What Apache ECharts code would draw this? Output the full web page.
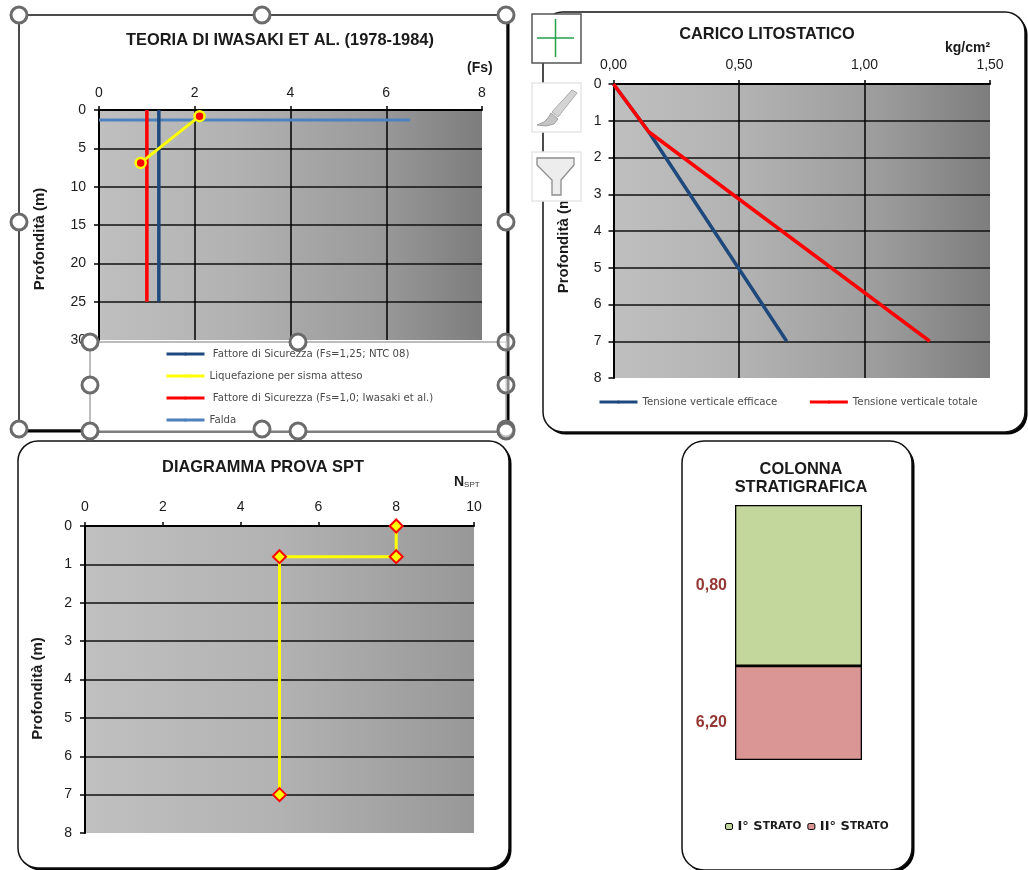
<!DOCTYPE html>
<html><head><meta charset="utf-8">
<style>html,body{margin:0;padding:0;background:#fff}#c{width:1028px;height:870px}</style>
<script src="https://cdn.jsdelivr.net/npm/echarts@6/dist/echarts.min.js"></script>
</head><body><div id="c"></div>
<script>
// --- Chart 1: Iwasaki
const fsTicks = [0, 8, 2];
const depthIwasaki = [0, 25];
const fs125 = [1.25, 1.25];
const fs100 = [1.0, 1.0];
const liquefaction = [[2.1, 0.8], [0.87, 6.9]];
const falda = [[0, 1.3], [6.5, 1.3]];
const iwasakiLegend = [' Fattore di Sicurezza (Fs=1,25; NTC 08)', 'Liquefazione per sisma atteso', ' Fattore di Sicurezza (Fs=1,0; Iwasaki et al.)', 'Falda'];
// --- Chart 2: Carico litostatico
const effective = [[0, 0], [0.14, 1.3], [0.69, 7]];
const total = [[0, 0], [0.14, 1.3], [1.26, 7]];
// --- Chart 3: SPT
const spt = [[8, 0], [8, 0.8], [5, 0.8], [5, 7]];
// --- Chart 4: Stratigraphy (drawn heights as pictured, labels as printed)
const strataNames = ['I° Strato', 'II° Strato'];
const strataDrawn = [63.1, 36.9];
const strataLabels = ['0,80', '6,20'];

const FONT = '"Liberation Sans", Arial, sans-serif';
const LEGFONT = '"DejaVu Sans", sans-serif';
const INK = '#1a1a1a';
const grad = (stops) => ({type:'linear',x:0,y:0,x2:1,y2:0,colorStops:stops.map(s=>({offset:s[0],color:s[1]}))});
const darkGrad = grad([[0,'#bfbfbf'],[0.35,'#b2b2b2'],[0.72,'#9b9b9b'],[1,'#7d7d7d']]);
const lightGrad = grad([[0,'#c0c0c0'],[0.5,'#b2b2b2'],[1,'#989898']]);

function unitName(text,size,padBottom){
  return {name:`{a|${text}}`,nameTextStyle:{padding:[0,0,padBottom,0],rich:{a:{fontFamily:FONT,fontSize:size,fontWeight:'bold',color:INK}}}};
}
function xAxis(i,min,max,interval,margin,opts={}){
  return Object.assign({
    gridIndex:i,type:'value',position:'top',min,max,interval,
    axisLine:{show:true,onZero:false,lineStyle:{color:'#000',width:2}},
    axisTick:{show:true,length:4,lineStyle:{color:'#000',width:1.5}},
    axisLabel:{fontFamily:FONT,fontSize:14,color:INK,margin,formatter:opts.fmt},
    splitLine:{show:true,showMinLine:false,showMaxLine:false,lineStyle:{color:'#000',width:1.5}},
    nameLocation:'end'
  },opts);
}
function yAxis(i,max,interval,pad,gap,margin){
  return {
    gridIndex:i,type:'value',inverse:true,min:0,max,interval,
    name:'Profondità (m)',nameLocation:'middle',nameRotate:90,nameGap:gap,
    nameTextStyle:{fontFamily:FONT,fontSize:15,fontWeight:'bold',color:INK,padding:[0,pad,0,0]},
    axisLine:{show:true,onZero:false,lineStyle:{color:'#000',width:2}},
    axisTick:{show:true,length:5,lineStyle:{color:'#000',width:1.5}},
    axisLabel:{fontFamily:FONT,fontSize:14,color:INK,margin},
    splitLine:{show:true,showMinLine:false,showMaxLine:false,lineStyle:{color:'#111',width:1.5}}
  };
}
function line(name,data,color,ax,extra={}){
  return Object.assign({name,type:'line',xAxisIndex:ax,yAxisIndex:ax,data,showSymbol:false,symbol:'none',
    lineStyle:{color,width:3.5},itemStyle:{color},silent:true,animation:false},extra);
}
const titleText=(text,left,top)=>({text,left,top,padding:0,textAlign:'center',textStyle:{fontFamily:FONT,fontSize:16.4,fontWeight:'bold',color:INK,lineHeight:18}});
function panel(x,y,w,h,r,shadow){
  return [
    {type:'rect',z:-10,shape:{x:x+shadow,y:y+shadow,width:w,height:h,r},style:{fill:'#000'},silent:true},
    {type:'rect',z:-9,shape:{x,y,width:w,height:h,r},style:{fill:'#fff',stroke:'#111',lineWidth:1.5},silent:true}
  ];
}
const handle=(cx,cy,fill='#fff')=>({type:'circle',z:20,shape:{cx,cy,r:8},style:{fill,stroke:'#6b6b6b',lineWidth:3},silent:true});
const btn=(y,stroke)=>({type:'rect',z:20,shape:{x:532,y,width:49,height:49},style:{fill:'#fff',stroke,lineWidth:1.5},silent:true});

const graphicEls=[
  ...panel(543,12,482,420,20,2.5),
  ...panel(18,441,491,427,20,2.5),
  ...panel(682,441,230,429,22,2.5),
  ...panel(19,15,488,415,6,2.5),
  {type:'rect',z:8,shape:{x:90,y:342,width:416,height:89},style:{fill:'#fff',stroke:'#a6a6a6',lineWidth:1.5},silent:true},
  handle(19,15),handle(262,15),handle(506,15),handle(19,222),handle(506,222),handle(19,429),handle(262,429),handle(506,429),
  handle(90,342),handle(298,342),handle(506,342,'rgba(255,255,255,.55)'),handle(90,385),handle(506,385,'rgba(255,255,255,.55)'),handle(90,431),handle(298,431),handle(506,431,'rgba(255,255,255,.55)'),
  btn(14,'#555'),
  {type:'line',z:21,shape:{x1:537,y1:38,x2:574,y2:38},style:{stroke:'#22a04a',lineWidth:1.5},silent:true},
  {type:'line',z:21,shape:{x1:555.5,y1:19,x2:555.5,y2:57},style:{stroke:'#22a04a',lineWidth:1.5},silent:true},
  btn(83,'#e6e6e6'),
  {type:'polygon',z:21,shape:{points:[[572,90],[577,93],[558,117],[552,112]]},style:{fill:'#d4d4d4',stroke:'#aaaaaa',lineWidth:1},silent:true},
  {type:'polygon',z:21,shape:{points:[[551,113],[558,119],[554,124],[546,126],[537,125],[544,122],[548,118]]},style:{fill:'#c4c4c4',stroke:'#a0a0a0',lineWidth:1},silent:true},
  btn(152,'#e6e6e6'),
  {type:'polygon',z:21,shape:{points:[[537,158],[574,158],[574,165],[561,180],[561,195],[552,195],[552,180],[537,165]]},style:{fill:'#ededed',stroke:'#8c8c8c',lineWidth:1.3},silent:true}
];
const legText={fontFamily:LEGFONT,fontSize:10.2,color:'#4a4a4a'};
const legItem=(name,color)=>({name,itemStyle:{color,borderWidth:0}});

const option={
  animation:false,
  backgroundColor:'#fff',
  graphic:{elements:graphicEls},
  title:[
    titleText('TEORIA DI IWASAKI ET AL. (1978-1984)',280,31),
    titleText('CARICO LITOSTATICO',767,25),
    titleText('DIAGRAMMA PROVA SPT',263,458),
    titleText('COLONNA\nSTRATIGRAFICA',801,460)
  ],
  grid:[
    {left:99,top:110,width:383,height:230,show:true,borderWidth:0,backgroundColor:darkGrad},
    {left:613.5,top:84,width:376.5,height:294,show:true,borderWidth:0,backgroundColor:darkGrad},
    {left:85,top:526,width:389,height:307,show:true,borderWidth:0,backgroundColor:lightGrad},
    {left:735,top:505,width:127,height:255,show:false}
  ],
  xAxis:[
    xAxis(0,fsTicks[0],fsTicks[1],fsTicks[2],10,{...unitName('(Fs)',14,84),nameGap:-15}),
    xAxis(1,0,1.5,0.5,12,{fmt:v=>v.toFixed(2).replace('.',','),...unitName('kg/cm²',14,72),nameGap:-45}),
    xAxis(2,0,10,2,12,{splitLine:{show:false},name:'{a|N}{b|SPT}',nameGap:-20,nameTextStyle:{padding:[0,0,88,0],rich:{a:{fontFamily:FONT,fontSize:14,fontWeight:'bold',color:INK},b:{fontFamily:FONT,fontSize:8,fontWeight:'normal',color:'#333',verticalAlign:'bottom',padding:[5,0,0,0]}}}}),
    {gridIndex:3,type:'category',data:['Strati'],show:false}
  ],
  yAxis:[
    yAxis(0,30,5,28,52,13),
    yAxis(1,8,1,22,42.5,12),
    yAxis(2,8,1,18,40,13),
    {gridIndex:3,type:'value',inverse:true,min:0,max:100,show:false}
  ],
  legend:[
    {orient:'vertical',left:165,top:348,padding:0,itemWidth:38,itemHeight:4,itemGap:10,z:10,lineStyle:{width:3},
      data:[legItem(iwasakiLegend[0],'#1f497d'),legItem(iwasakiLegend[1],'#ffff00'),legItem(iwasakiLegend[2],'#ff0000'),legItem(iwasakiLegend[3],'#4f81bd')],
      textStyle:{...legText,lineHeight:12}},
    {left:598,top:397,padding:0,itemWidth:38,itemHeight:4,itemGap:31,lineStyle:{width:3},
      data:[legItem('Tensione verticale efficace','#1f497d'),legItem('Tensione verticale totale','#ff0000')],textStyle:legText},
    {left:725,top:820,padding:0,itemWidth:7,itemHeight:6,itemGap:6,
      data:strataNames.map((name,i)=>({name,itemStyle:{borderWidth:1}})),
      formatter:n=>n.replace(/^(I+°) S(.*)$/,(m,a,b)=>`{a|${a} S}{b|${b.toUpperCase()}}`),
      textStyle:{rich:{a:{fontFamily:LEGFONT,fontSize:13,fontWeight:'bold',color:INK},b:{fontFamily:LEGFONT,fontSize:10.5,fontWeight:'bold',color:INK}}}}
  ],
  series:[
    line(iwasakiLegend[3],falda,'#4f81bd',0,{z:3,lineStyle:{color:'#4f81bd',width:3}}),
    line(iwasakiLegend[0],fs125.map((x,i)=>[x,depthIwasaki[i]]),'#1f497d',0,{z:4}),
    line(iwasakiLegend[2],fs100.map((x,i)=>[x,depthIwasaki[i]]),'#ff0000',0,{z:4}),
    line(iwasakiLegend[1],liquefaction,'#ffff00',0,{z:5,showSymbol:true,symbol:'circle',symbolSize:10,lineStyle:{color:'#ffff00',width:3},
      itemStyle:{color:'#ff0000',borderColor:'#ffff00',borderWidth:2.5}}),
    line('Tensione verticale efficace',effective,'#1f497d',1,{z:3}),
    line('Tensione verticale totale',total,'#ff0000',1,{z:4}),
    line('Prova SPT',spt,'#ffff00',2,{z:3,showSymbol:true,symbol:'diamond',symbolSize:13,lineStyle:{color:'#ffff00',width:3},
      itemStyle:{color:'#ffff00',borderColor:'#ff0000',borderWidth:2}}),
    ...strataNames.map((name,i)=>({
      name,type:'bar',stack:'col',xAxisIndex:3,yAxisIndex:3,barWidth:'100%',data:[strataDrawn[i]],silent:true,
      itemStyle:{color:['#c3d69b','#d99694'][i],borderColor:'#000',borderWidth:1.3},
      label:{show:true,position:'left',distance:8,offset:[0,i?10:0],formatter:()=>strataLabels[i],
        fontFamily:FONT,fontSize:16,fontWeight:'bold',color:'#953735'}
    }))
  ]
};
const chart=echarts.init(document.getElementById('c'),null,{renderer:'canvas'});
chart.setOption(option);
</script></body></html>
